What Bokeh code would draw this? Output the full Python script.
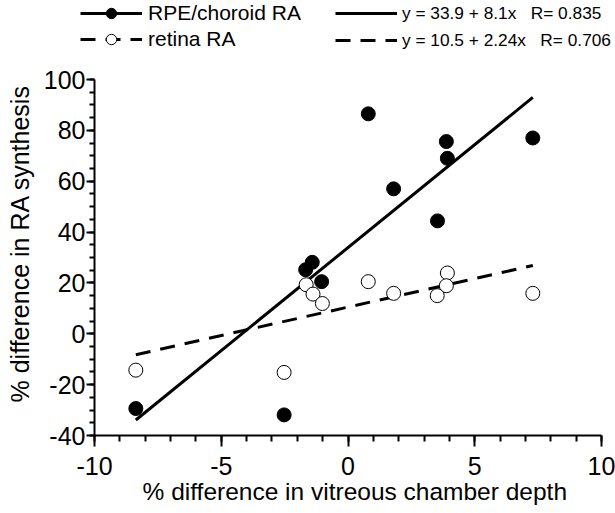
from bokeh.plotting import figure
from bokeh.layouts import column
from bokeh.models import Legend, LegendItem, SingleIntervalTicker, CustomJSTickFormatter
from bokeh.embed import file_html
from bokeh.resources import INLINE

# ---- data ----
rpe_x = [0.80, 3.88, 3.92, 7.29, 1.80, 3.53, -1.41, -1.67, -1.04, -8.37, -2.52]
rpe_y = [86.5, 75.6, 69.0, 77.0, 57.0, 44.4, 28.1, 25.2, 20.5, -29.4, -31.9]
ret_x = [0.80, 3.92, 3.88, 3.52, 1.80, 7.29, -1.65, -1.38, -1.01, -8.37, -2.52]
ret_y = [20.5, 23.9, 18.9, 15.0, 15.9, 15.9, 19.3, 15.6, 11.9, -14.3, -15.2]

series_names = ["RPE/choroid RA", "retina RA"]
fit_intercepts = [33.9, 10.5]
fit_slopes = [8.1, 2.24]
fit_labels = ["y = 33.9 + 8.1x   R= 0.835", "y = 10.5 + 2.24x   R= 0.706"]

x_label = "% difference in vitreous chamber depth"
y_label = "% difference in RA synthesis"

FONT = "Liberation Sans"
DASH = "15 10"
LEG_H = 55
NB = "\u00a0"

# ---------------- main plot ----------------
p = figure(width=615, height=513 - LEG_H, x_range=(-10, 10), y_range=(-40, 100),
           output_backend="svg", toolbar_location=None,
           min_border_left=94, min_border_right=14,
           min_border_top=79 - LEG_H, min_border_bottom=78)
p.frame_align = False
p.xgrid.visible = False
p.ygrid.visible = False
p.outline_line_color = None
p.background_fill_color = "white"
p.border_fill_color = "white"

p.xaxis.ticker = SingleIntervalTicker(interval=5, num_minor_ticks=5)
p.yaxis.ticker = SingleIntervalTicker(interval=20, num_minor_ticks=4)
for ax in (p.xaxis[0], p.yaxis[0]):
    ax.formatter = CustomJSTickFormatter(code="return tick.toFixed(0)")
    ax.axis_line_color = "black"
    ax.axis_line_width = 2
    ax.major_tick_line_color = "black"
    ax.major_tick_line_width = 2
    ax.minor_tick_line_color = "black"
    ax.minor_tick_line_width = 2
    ax.major_tick_in = 0
    ax.minor_tick_in = 0
    ax.major_label_text_font = FONT
    ax.major_label_text_font_size = "25px"
    ax.major_label_text_color = "black"
    ax.axis_label_text_font = FONT
    ax.axis_label_text_font_style = "normal"
    ax.axis_label_text_color = "black"

p.xaxis.axis_label_text_font_size = "24.5px"
p.yaxis.axis_label_text_font_size = "25px"
p.xaxis.major_tick_out = 11
p.xaxis.minor_tick_out = 6
p.xaxis.major_label_standoff = 10
p.xaxis.axis_label_standoff = 0
p.yaxis.major_tick_out = 8
p.yaxis.minor_tick_out = 5
p.yaxis.major_label_standoff = 1
p.yaxis.axis_label_standoff = 7
p.xaxis.axis_label = NB * 2 + x_label
p.yaxis.axis_label = NB * 4 + y_label

# regression lines, spanning the data range of each series
for xs, a, b, dash in [(rpe_x, fit_intercepts[0], fit_slopes[0], "solid"),
                       (ret_x, fit_intercepts[1], fit_slopes[1], DASH)]:
    x0, x1 = min(xs), max(xs)
    p.line([x0, x1], [a + b * x0, a + b * x1], line_color="black",
           line_width=3, line_dash=dash)

# data points
p.scatter(rpe_x, rpe_y, size=14, marker="circle", fill_color="black",
          line_color="black", line_width=1)
p.scatter(ret_x, ret_y, size=14, marker="circle", fill_color="white",
          line_color="black", line_width=1)

# ---------------- legend strip above ----------------
lp = figure(width=615, height=LEG_H, x_range=(0, 1), y_range=(0, 1),
            output_backend="svg", toolbar_location=None,
            x_axis_type=None, y_axis_type=None,
            min_border_left=0, min_border_right=0,
            min_border_top=0, min_border_bottom=0)
lp.frame_align = False
lp.xgrid.visible = False
lp.ygrid.visible = False
lp.outline_line_color = None
lp.background_fill_color = "white"
lp.border_fill_color = "white"

# key renderers: their points lie outside the strip's ranges, only the keys show
off = [5, 6]
k_solid = lp.line(off, off, line_color="black", line_width=3)
k_dash = lp.line(off, off, line_color="black", line_width=3, line_dash=DASH)
k_fill = lp.scatter(off, off, marker="circle", fill_color="black", line_color="black")
k_open = lp.scatter(off, off, marker="circle", fill_color="white", line_color="black")
k_fit1 = lp.line(off, off, line_color="black", line_width=3)
k_fit2 = lp.line(off, off, line_color="black", line_width=3, line_dash=DASH)

leg1 = Legend(items=[LegendItem(label=series_names[0], renderers=[k_solid, k_fill]),
                     LegendItem(label=series_names[1], renderers=[k_dash, k_open])],
              location=(80, 3), border_line_color=None, background_fill_alpha=0,
              padding=0, margin=0, spacing=-3, glyph_width=62, glyph_height=26,
              label_height=26, label_standoff=6, label_text_font=FONT,
              label_text_font_size="21px", label_text_color="black")
leg2 = Legend(items=[LegendItem(label=fit_labels[0], renderers=[k_fit1]),
                     LegendItem(label=fit_labels[1], renderers=[k_fit2])],
              location=(335, 4), border_line_color=None, background_fill_alpha=0,
              padding=0, margin=0, spacing=5, glyph_width=62, glyph_height=22,
              label_height=22, label_standoff=5, label_text_font=FONT,
              label_text_font_size="17.3px", label_text_color="black")
lp.add_layout(leg1)
lp.add_layout(leg2)

layout = column(lp, p, spacing=0)
open("out.html", "w").write(file_html(layout, INLINE))
